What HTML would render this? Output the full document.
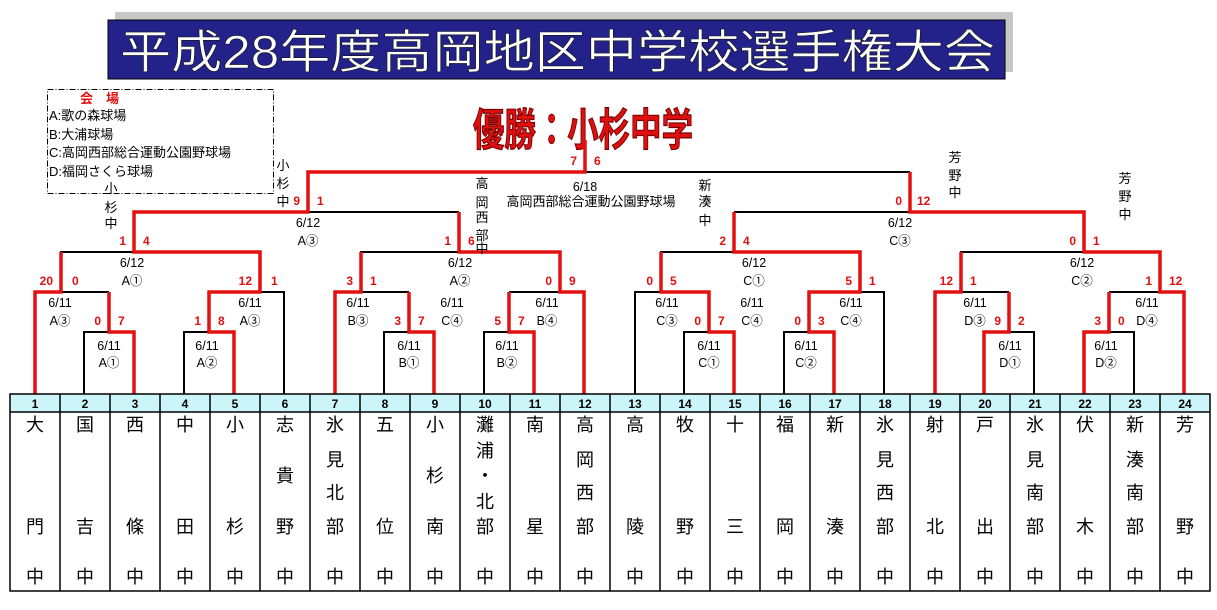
<!DOCTYPE html>
<html><head><meta charset="utf-8"><style>
html,body{margin:0;padding:0;background:#fff;}
svg{display:block;}
text{font-family:"Liberation Sans","Noto Sans CJK JP",sans-serif;}
.s{fill:#e01010;font-size:12px;font-weight:bold;}
.d{font-size:12.5px;fill:#000;text-anchor:middle;}
.v{font-size:13px;fill:#000;text-anchor:middle;}
.n{font-size:18px;fill:#000;text-anchor:middle;}
.h{font-size:12px;fill:#000;text-anchor:middle;font-weight:bold;}
</style></head><body>
<svg width="1217" height="610" viewBox="0 0 1217 610" xmlns="http://www.w3.org/2000/svg">
<!-- title -->
<rect x="115" y="12" width="898" height="60" fill="#c8c8c8"/>
<rect x="108" y="20" width="897" height="59" fill="#22228a" stroke="#000" stroke-width="1"/>
<text x="120" y="68" font-size="46" fill="#fff" stroke="#111" stroke-width="0.6" textLength="875" lengthAdjust="spacingAndGlyphs">平成28年度高岡地区中学校選手権大会</text>
<!-- legend -->
<rect x="47.5" y="89.5" width="226" height="104" fill="none" stroke="#000" stroke-width="1" stroke-dasharray="6,2,1,2"/>
<text x="80" y="103" font-size="13" font-weight="bold" fill="#e01010">会　場</text>
<text x="49" y="120" font-size="13">A:歌の森球場</text>
<text x="49" y="139" font-size="13">B:大浦球場</text>
<text x="49" y="157" font-size="13">C:高岡西部総合運動公園野球場</text>
<text x="49" y="176" font-size="13">D:福岡さくら球場</text>
<!-- champion -->
<text x="473" y="145" font-size="44" font-weight="bold" fill="#e01010" stroke="#700" stroke-width="1.2" textLength="220" lengthAdjust="spacingAndGlyphs">優勝：小杉中学</text>

<!-- black structure -->
<path fill="none" stroke="#000" stroke-width="2" d="
M84,394V332H134V394 M109,332V292 M184,394V332H234V394 M209,332V292 M35,394V292H109 M209,292H284V394 M61,292V252H260V292 M134,252V212
M384,394V332H434V394 M409,332V292 M484,394V332H534V394 M509,332V292 M335,394V292H409 M509,292H584V394 M361,292V252H560V292 M459,252V212
M684,394V332H734V394 M709,332V292 M784,394V332H834V394 M809,332V292 M635,394V292H709 M809,292H884V394 M661,292V252H860V292 M734,252V212
M984,394V332H1034V394 M1009,332V292 M1084,394V332H1134V394 M1109,332V292 M935,394V292H1009 M1109,292H1184V394 M961,292V252H1160V292 M1084,252V212
M134,212H459 M308,212V172 M734,212H1084 M910,212V172 M308,172H910 M585,172V145"/>
<!-- red paths -->
<g fill="none" stroke="#e41010" stroke-width="3.5" stroke-linejoin="miter">
<polyline points="35,394 35,292 61,292 61,252"/>
<polyline points="134,394 134,332 109,332 109,292"/>
<polyline points="234,394 234,332 209,332 209,292 260,292 260,252 134,252 134,212 308,212 308,172 585,172 585,140"/>
<polyline points="434,394 434,332 409,332 409,292"/>
<polyline points="335,394 335,292 361,292 361,252"/>
<polyline points="534,394 534,332 509,332 509,292"/>
<polyline points="584,394 584,292 560,292 560,252 459,252 459,212"/>
<polyline points="734,394 734,332 709,332 709,292 661,292 661,252"/>
<polyline points="834,394 834,332 809,332 809,292 860,292 860,252 734,252 734,212"/>
<polyline points="984,394 984,332 1009,332 1009,292"/>
<polyline points="935,394 935,292 961,292 961,252"/>
<polyline points="1084,394 1084,332 1109,332 1109,292"/>
<polyline points="1184,394 1184,292 1160,292 1160,252 1084,252 1084,212 910,212 910,172"/>
</g>

<!-- scores -->
<g class="s">
<text x="101" y="325" text-anchor="end">0</text><text x="118" y="325">7</text>
<text x="201" y="325" text-anchor="end">1</text><text x="218" y="325">8</text>
<text x="53" y="285" text-anchor="end">20</text><text x="72" y="285">0</text>
<text x="252" y="285" text-anchor="end">12</text><text x="271" y="285">1</text>
<text x="126" y="245" text-anchor="end">1</text><text x="143" y="245">4</text>
<text x="401" y="325" text-anchor="end">3</text><text x="418" y="325">7</text>
<text x="501" y="325" text-anchor="end">5</text><text x="518" y="325">7</text>
<text x="353" y="285" text-anchor="end">3</text><text x="370" y="285">1</text>
<text x="552" y="285" text-anchor="end">0</text><text x="569" y="285">9</text>
<text x="451" y="245" text-anchor="end">1</text><text x="468" y="245">6</text>
<text x="701" y="325" text-anchor="end">0</text><text x="718" y="325">7</text>
<text x="801" y="325" text-anchor="end">0</text><text x="818" y="325">3</text>
<text x="653" y="285" text-anchor="end">0</text><text x="670" y="285">5</text>
<text x="852" y="285" text-anchor="end">5</text><text x="869" y="285">1</text>
<text x="726" y="245" text-anchor="end">2</text><text x="743" y="245">4</text>
<text x="1001" y="325" text-anchor="end">9</text><text x="1018" y="325">2</text>
<text x="1101" y="325" text-anchor="end">3</text><text x="1118" y="325">0</text>
<text x="953" y="285" text-anchor="end">12</text><text x="970" y="285">1</text>
<text x="1152" y="285" text-anchor="end">1</text><text x="1169" y="285">12</text>
<text x="1076" y="245" text-anchor="end">0</text><text x="1093" y="245">1</text>
<text x="300" y="205" text-anchor="end">9</text><text x="317" y="205">1</text>
<text x="902" y="205" text-anchor="end">0</text><text x="917" y="205">12</text>
<text x="577" y="165" text-anchor="end">7</text><text x="594" y="165">6</text>
</g>

<!-- date labels -->
<g class="d">
<text x="60" y="307">6/11</text><text x="60" y="325">A③</text>
<text x="109" y="350">6/11</text><text x="109" y="367">A①</text>
<text x="207" y="350">6/11</text><text x="207" y="367">A②</text>
<text x="250" y="307">6/11</text><text x="250" y="325">A③</text>
<text x="132" y="267">6/12</text><text x="132" y="285">A①</text>
<text x="308" y="227">6/12</text><text x="308" y="245">A③</text>
<text x="358" y="307">6/11</text><text x="358" y="325">B③</text>
<text x="409" y="350">6/11</text><text x="409" y="367">B①</text>
<text x="452" y="307">6/11</text><text x="452" y="325">C④</text>
<text x="507" y="350">6/11</text><text x="507" y="367">B②</text>
<text x="547" y="307">6/11</text><text x="547" y="325">B④</text>
<text x="460" y="267">6/12</text><text x="460" y="285">A②</text>
<text x="667" y="307">6/11</text><text x="667" y="325">C③</text>
<text x="709" y="350">6/11</text><text x="709" y="367">C①</text>
<text x="752" y="307">6/11</text><text x="752" y="325">C④</text>
<text x="806" y="350">6/11</text><text x="806" y="367">C②</text>
<text x="851" y="307">6/11</text><text x="851" y="325">C④</text>
<text x="754" y="267">6/12</text><text x="754" y="285">C①</text>
<text x="900" y="227">6/12</text><text x="900" y="245">C③</text>
<text x="975" y="307">6/11</text><text x="975" y="325">D③</text>
<text x="1010" y="350">6/11</text><text x="1010" y="367">D①</text>
<text x="1106" y="350">6/11</text><text x="1106" y="367">D②</text>
<text x="1147" y="307">6/11</text><text x="1147" y="325">D④</text>
<text x="1082" y="267">6/12</text><text x="1082" y="285">C②</text>
<text x="585" y="191">6/18</text>
</g>
<text x="591" y="206" font-size="13" text-anchor="middle">高岡西部総合運動公園野球場</text>

<!-- vertical school names -->
<g class="v">
<text x="283" y="170">小</text><text x="283" y="188">杉</text><text x="283" y="206">中</text>
<text x="111" y="193">小</text><text x="111" y="212">杉</text><text x="111" y="228">中</text>
<text x="482" y="188">高</text><text x="482" y="207">岡</text><text x="482" y="222">西</text><text x="482" y="240">部</text><text x="482" y="253">中</text>
<text x="705" y="190">新</text><text x="705" y="206">湊</text><text x="705" y="225">中</text>
<text x="955" y="162">芳</text><text x="955" y="180">野</text><text x="955" y="197">中</text>
<text x="1125" y="183">芳</text><text x="1125" y="201">野</text><text x="1125" y="219">中</text>
</g>

<!-- table -->
<rect x="10" y="394" width="1200" height="18" fill="#ccf5fa"/>
<path fill="none" stroke="#000" stroke-width="1.5" d="M10,394H1210V591H10Z M10,412H1210
M60,394V591 M110,394V591 M160,394V591 M210,394V591 M260,394V591 M310,394V591 M360,394V591 M410,394V591 M460,394V591 M510,394V591 M560,394V591 M610,394V591 M660,394V591 M710,394V591 M760,394V591 M810,394V591 M860,394V591 M910,394V591 M960,394V591 M1010,394V591 M1060,394V591 M1110,394V591 M1160,394V591"/>
<g class="h">
<text x="35" y="408">1</text><text x="85" y="408">2</text><text x="135" y="408">3</text><text x="185" y="408">4</text><text x="235" y="408">5</text><text x="285" y="408">6</text>
<text x="335" y="408">7</text><text x="385" y="408">8</text><text x="435" y="408">9</text><text x="485" y="408">10</text><text x="535" y="408">11</text><text x="585" y="408">12</text>
<text x="635" y="408">13</text><text x="685" y="408">14</text><text x="735" y="408">15</text><text x="785" y="408">16</text><text x="835" y="408">17</text><text x="885" y="408">18</text>
<text x="935" y="408">19</text><text x="985" y="408">20</text><text x="1035" y="408">21</text><text x="1085" y="408">22</text><text x="1135" y="408">23</text><text x="1185" y="408">24</text>
</g>
<g class="n">
<text x="35" y="431">大</text><text x="35" y="533">門</text><text x="35" y="583">中</text>
<text x="85" y="431">国</text><text x="85" y="533">吉</text><text x="85" y="583">中</text>
<text x="135" y="431">西</text><text x="135" y="533">條</text><text x="135" y="583">中</text>
<text x="185" y="431">中</text><text x="185" y="533">田</text><text x="185" y="583">中</text>
<text x="235" y="431">小</text><text x="235" y="533">杉</text><text x="235" y="583">中</text>
<text x="285" y="431">志</text><text x="285" y="482">貴</text><text x="285" y="533">野</text><text x="285" y="583">中</text>
<text x="335" y="431">氷</text><text x="335" y="466">見</text><text x="335" y="499">北</text><text x="335" y="533">部</text><text x="335" y="583">中</text>
<text x="385" y="431">五</text><text x="385" y="533">位</text><text x="385" y="583">中</text>
<text x="435" y="431">小</text><text x="435" y="482">杉</text><text x="435" y="533">南</text><text x="435" y="583">中</text>
<text x="485" y="431">灘</text><text x="485" y="457">浦</text><text x="485" y="482">・</text><text x="485" y="508">北</text><text x="485" y="533">部</text><text x="485" y="583">中</text>
<text x="535" y="431">南</text><text x="535" y="533">星</text><text x="535" y="583">中</text>
<text x="585" y="431">高</text><text x="585" y="466">岡</text><text x="585" y="499">西</text><text x="585" y="533">部</text><text x="585" y="583">中</text>
<text x="635" y="431">高</text><text x="635" y="533">陵</text><text x="635" y="583">中</text>
<text x="685" y="431">牧</text><text x="685" y="533">野</text><text x="685" y="583">中</text>
<text x="735" y="431">十</text><text x="735" y="533">三</text><text x="735" y="583">中</text>
<text x="785" y="431">福</text><text x="785" y="533">岡</text><text x="785" y="583">中</text>
<text x="835" y="431">新</text><text x="835" y="533">湊</text><text x="835" y="583">中</text>
<text x="885" y="431">氷</text><text x="885" y="466">見</text><text x="885" y="499">西</text><text x="885" y="533">部</text><text x="885" y="583">中</text>
<text x="935" y="431">射</text><text x="935" y="533">北</text><text x="935" y="583">中</text>
<text x="985" y="431">戸</text><text x="985" y="533">出</text><text x="985" y="583">中</text>
<text x="1035" y="431">氷</text><text x="1035" y="466">見</text><text x="1035" y="499">南</text><text x="1035" y="533">部</text><text x="1035" y="583">中</text>
<text x="1085" y="431">伏</text><text x="1085" y="533">木</text><text x="1085" y="583">中</text>
<text x="1135" y="431">新</text><text x="1135" y="466">湊</text><text x="1135" y="499">南</text><text x="1135" y="533">部</text><text x="1135" y="583">中</text>
<text x="1185" y="431">芳</text><text x="1185" y="533">野</text><text x="1185" y="583">中</text>
</g>
</svg>
</body></html>
